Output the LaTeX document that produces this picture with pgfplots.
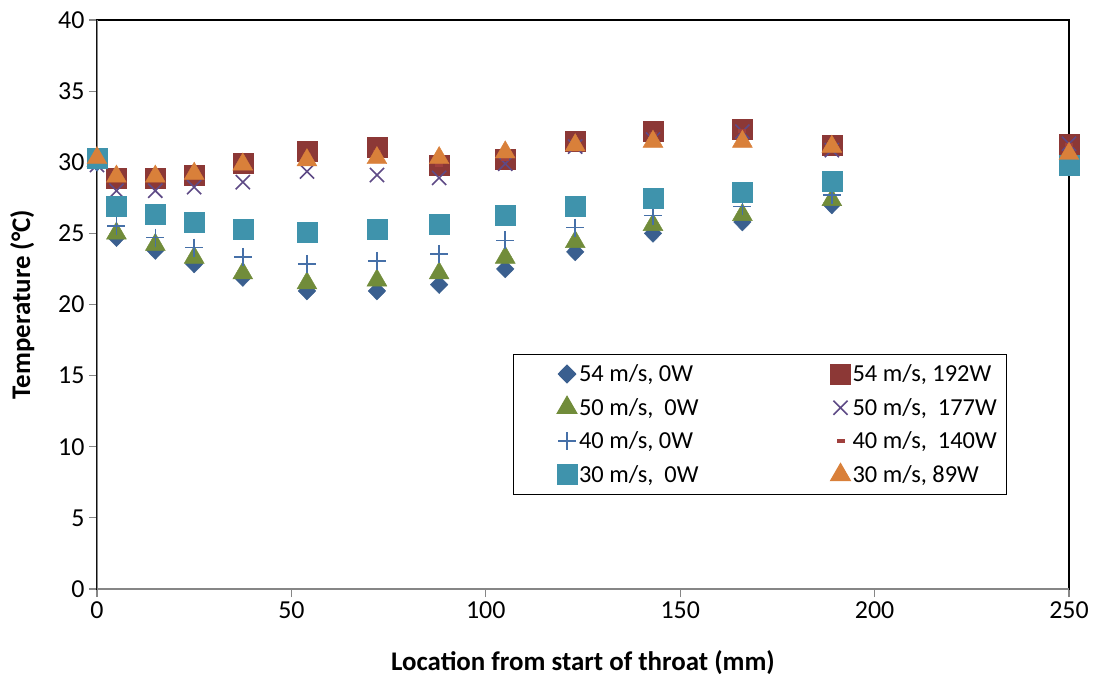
\documentclass[border=0pt]{standalone}
\usepackage{fontspec}
\setmainfont{Carlito}
\usepackage{pgfplots}
\pgfplotsset{compat=1.18}
\definecolor{cDia}{HTML}{3A5F8F}
\definecolor{cRed}{HTML}{8C3836}
\definecolor{cGrn}{HTML}{718C3A}
\definecolor{cX}{HTML}{5E4A86}
\definecolor{cPlus}{HTML}{4670A8}
\definecolor{cDash}{HTML}{A0403D}
\definecolor{cCyan}{HTML}{3F93AC}
\definecolor{cOra}{HTML}{D9803A}
\definecolor{axgray}{HTML}{868686}
\begin{document}
\begin{tikzpicture}
\begin{axis}[
  scale only axis,
  width=972bp, height=569bp,
  xmin=0, xmax=250, ymin=0, ymax=40,
  xtick={0,50,...,250}, ytick={0,5,...,40},
  xtick pos=bottom, ytick pos=left,
  tick align=outside,
  major tick length=8bp,
  tick style={draw=axgray, line width=1.2bp},
  axis line style={black, line width=1.3bp},
  /pgf/number format/assume math mode=true,
  ticklabel style={font=\fontsize{26}{30}\selectfont},
  xticklabel style={yshift=-1bp},
  yticklabel style={xshift=-1bp},
  xlabel={\textbf{Location from start of throat (mm)}},
  ylabel={\textbf{Temperature (°C)}},
  label style={font=\fontsize{27}{31}\selectfont},
  xlabel style={yshift=-25bp},
  ylabel style={yshift=17bp},
  legend columns=2,
  legend cell align=left,
  legend style={at={(axis cs:107,16.5)}, anchor=north west, draw=black, line width=1bp,
    inner xsep=8bp, inner ysep=8bp, row sep=11bp,
    font=\fontsize{24.5}{29}\selectfont,
    nodes={inner sep=2bp}},
  legend image code/.code={\path (-45bp,0) (8bp,0); \draw[mark repeat=2,mark phase=2,#1] plot coordinates {(-8bp,0)(0bp,0)(8bp,0)};},
]
\coordinate (sw) at (rel axis cs:0,0);
\coordinate (ne) at (rel axis cs:1,1);
\draw[axgray, line width=1.6bp] (rel axis cs:0,0) -- (rel axis cs:0,1);
\draw[axgray, line width=1.6bp] (rel axis cs:0,0) -- (rel axis cs:1,0);

\addplot[only marks, mark=diamond*, mark size=9bp, color=cDia, mark options={xscale=1.3}] coordinates {
(0,30.0)(5,24.7)(15,23.8)(25,22.85)(37.5,21.9)(54,20.95)(72,20.95)(88,21.4)(105,22.5)(123,23.7)(143,25.0)(166,25.8)(189,27.0)};
\addlegendentry{\makebox[214bp][l]{54 m/s, 0W}}
\addplot[only marks, mark=square*, mark size=10bp, color=cRed] coordinates {
(0,30.3)(5,28.9)(15,28.9)(25,29.1)(37.5,29.9)(54,30.8)(72,31.05)(88,29.8)(105,30.2)(123,31.45)(143,32.15)(166,32.3)(189,31.2)(250,31.3)};
\addlegendentry{54 m/s, 192W}
\addplot[only marks, mark=triangle*, mark size=11.5bp, color=cGrn] coordinates {
(0,30.1)(5,25.0)(15,24.2)(25,23.3)(37.5,22.2)(54,21.5)(72,21.7)(88,22.2)(105,23.3)(123,24.4)(143,25.6)(166,26.3)(189,27.35)};
\addlegendentry{\makebox[214bp][l]{50 m/s,\ \ 0W}}
\addplot[only marks, mark=x, mark size=10bp, color=cX, mark options={line width=1.6bp}] coordinates {
(0,29.8)(5,28.0)(15,28.0)(25,28.25)(37.5,28.6)(54,29.35)(72,29.1)(88,28.9)(105,29.9)(123,31.1)(143,31.6)(166,32.15)(189,30.85)(250,31.3)};
\addlegendentry{50 m/s,\ \ 177W}
\addplot[only marks, mark=+, mark size=9bp, color=cPlus, mark options={line width=1.6bp}] coordinates {
(0,30.0)(5,25.5)(15,24.7)(25,24.0)(37.5,23.35)(54,22.85)(72,23.06)(88,23.55)(105,24.5)(123,25.4)(143,26.25)(166,26.9)(189,27.7)};
\addlegendentry{\makebox[214bp][l]{40 m/s, 0W}}
\addplot[only marks, mark=-, mark size=4bp, color=cDash, mark options={line width=4bp}] coordinates {
(0,30.2)(5,28.9)(15,28.9)(25,29.1)(37.5,29.8)(54,30.5)(72,30.7)(88,29.8)(105,30.2)(123,31.3)(143,32.0)(166,32.2)(189,31.1)(250,31.2)};
\addlegendentry{40 m/s,\ \ 140W}
\addplot[only marks, mark=square*, mark size=10bp, color=cCyan] coordinates {
(0,30.28)(5,26.9)(15,26.35)(25,25.8)(37.5,25.3)(54,25.05)(72,25.28)(88,25.66)(105,26.3)(123,26.9)(143,27.45)(166,27.9)(189,28.7)(250,29.8)};
\addlegendentry{\makebox[214bp][l]{30 m/s,\ \ 0W}}
\addplot[only marks, mark=triangle*, mark size=11.5bp, color=cOra] coordinates {
(0,30.3)(5,29.0)(15,29.0)(25,29.2)(37.5,29.85)(54,30.15)(72,30.3)(88,30.3)(105,30.7)(123,31.2)(143,31.45)(166,31.45)(189,31.1)(250,30.6)};
\addlegendentry{30 m/s, 89W}
\end{axis}
\path[use as bounding box] ([shift={(-97bp,-90bp)}]sw) rectangle ([shift={(27bp,20bp)}]ne);
\end{tikzpicture}
\end{document}
